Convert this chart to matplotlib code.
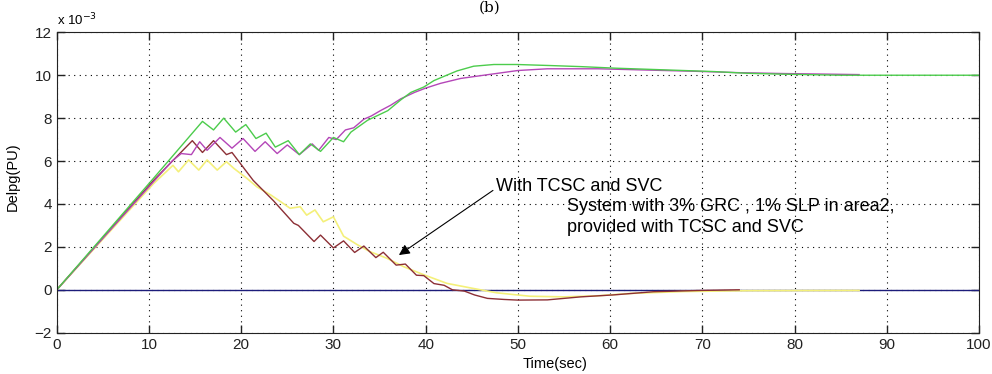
import matplotlib
matplotlib.use("Agg")
import matplotlib.pyplot as plt

plt.rcParams['font.family'] = ['Liberation Sans', 'DejaVu Sans']

# values, y in units of 1e-3 PU
t_green = [0, 10.5, 15.8, 17.0, 18.1, 19.4, 20.5, 21.6, 22.7, 23.7, 25.1, 26.3,
           27.5, 28.6, 30.0, 31.1, 31.9, 33.7, 35.9, 37.3, 38.4, 39.8, 40.9, 42.0,
           43.4, 45.2, 47.4, 49.9, 53.6, 56.9, 60.5, 65.9, 71.3, 74.9, 78.6, 85, 100]
v_green = [0, 5.2, 7.85, 7.45, 8.0, 7.35, 7.7, 7.05, 7.3, 6.65, 6.95, 6.3,
           6.8, 6.45, 7.1, 6.9, 7.35, 7.9, 8.35, 8.85, 9.2, 9.45, 9.75, 9.95,
           10.2, 10.42, 10.5, 10.5, 10.45, 10.4, 10.33, 10.25, 10.17, 10.09, 10.05, 10.0, 10.0]

t_mag = [0, 12.5, 13.5, 14.6, 15.5, 16.3, 17.7, 19.0, 20.2, 21.5, 22.6, 23.9, 25.0,
         26.3, 27.7, 28.4, 29.5, 30.3, 31.3, 32.2, 33.3, 34.1, 35.1, 36.2, 37.3,
         38.8, 40.0, 41.6, 43.8, 46.3, 50.0, 53.2, 58.7, 64.1, 69.5, 73.9, 78.6, 87]
v_mag = [0, 6.0, 6.35, 6.3, 6.9, 6.5, 7.1, 6.6, 7.05, 6.45, 6.9, 6.35, 6.75,
         6.3, 6.8, 6.5, 7.1, 7.0, 7.45, 7.55, 7.95, 8.1, 8.35, 8.6, 8.9,
         9.2, 9.4, 9.62, 9.85, 10.0, 10.22, 10.3, 10.3, 10.24, 10.18, 10.12, 10.08, 10.03]

t_brown = [0, 10.5, 14.7, 15.8, 17.0, 18.4, 19.0, 21.3, 23.5, 25.7, 26.2, 27.9, 28.6,
           30.0, 31.1, 32.3, 33.3, 34.6, 35.4, 36.8, 37.8, 39.0, 39.8, 40.9, 42.0,
           42.9, 44.2, 45.3, 46.7, 48.5, 50.0, 53.2, 56.8, 60.3, 64.7, 69.8, 74]
v_brown = [0, 5.1, 6.95, 6.4, 6.95, 6.3, 6.4, 5.1, 4.15, 3.1, 3.0, 2.25, 2.55,
           1.95, 2.28, 1.74, 2.04, 1.5, 1.75, 1.15, 1.2, 0.68, 0.66, 0.29, 0.21,
           0.0, -0.06, -0.24, -0.4, -0.45, -0.48, -0.47, -0.33, -0.24, -0.09, -0.03, 0.0]

t_yel = [0, 10.5, 12.6, 13.2, 14.3, 15.4, 16.3, 17.4, 18.4, 19.2, 20.6, 21.7, 23.2,
         24.3, 25.3, 26.4, 27.1, 28.0, 28.9, 30.0, 31.1, 32.6, 34.0, 35.8, 37.6,
         39.8, 42.3, 45.2, 47.7, 51.3, 55.0, 58.6, 62.2, 68, 75, 87]
v_yel = [0, 4.95, 5.8, 5.5, 6.05, 5.58, 6.05, 5.58, 5.97, 5.66, 5.2, 4.8, 4.42,
         4.1, 3.8, 3.87, 3.48, 3.72, 3.17, 3.4, 2.5, 2.1, 1.77, 1.47, 1.08,
         0.7, 0.3, 0.06, -0.14, -0.3, -0.33, -0.28, -0.17, -0.08, -0.04, -0.03]

t_blue = [0, 100]
v_blue = [0, 0]

fig = plt.figure(figsize=(9.92, 3.74), dpi=100)
ax = fig.add_axes([0.0572, 0.1104, 0.9297, 0.8032])

ax.plot(t_blue, v_blue, color='#1c1c7a', lw=1.0)
ax.plot(t_yel, v_yel, color='#f4f07a', lw=1.2)
ax.plot(t_brown, v_brown, color='#8c2f35', lw=1.0)
ax.plot(t_mag, v_mag, color='#b446b8', lw=1.0)
ax.plot(t_green, v_green, color='#4ccc4c', lw=1.0)

ax.set_xlim(0, 100)
ax.set_ylim(-2, 12)
ax.set_xticks(range(0, 101, 10))
ax.set_yticks(range(-2, 13, 2))
ax.grid(True, color='black', linestyle=(0, (1, 4)), lw=0.8)
ax.tick_params(direction='in', top=True, right=True, labelsize=11,
               length=6, width=1, colors='#222222')
for s in ax.spines.values():
    s.set_color('#222222')

ax.set_xlabel('Time(sec)', fontsize=10.5)
ax.xaxis.set_label_coords(0.54, -0.08)
ax.set_ylabel('Delpg(PU)', fontsize=10.5)
ax.yaxis.set_label_coords(-0.04, 0.52)

ax.text(0.0, 1.015, 'x 10$^{-3}$', transform=ax.transAxes, fontsize=9.5,
        ha='left', va='bottom')

ax.annotate('With TCSC and SVC', xy=(37.1, 1.62), xytext=(47.6, 4.8),
            fontsize=13, va='center', ha='left',
            arrowprops=dict(arrowstyle='-|>', color='black', lw=0.8,
                            mutation_scale=16, shrinkA=0, shrinkB=0,
                            relpos=(0, 0.4)))
ax.text(55.3, 3.4, 'System with 3% GRC , 1% SLP in area2,\nprovided with TCSC and SVC',
        fontsize=13, va='center', ha='left', linespacing=1.28)

fig.text(0.494, 0.999, '(b)', family='serif', fontsize=11, ha='center', va='top')

fig.savefig('out.png', dpi=100)
